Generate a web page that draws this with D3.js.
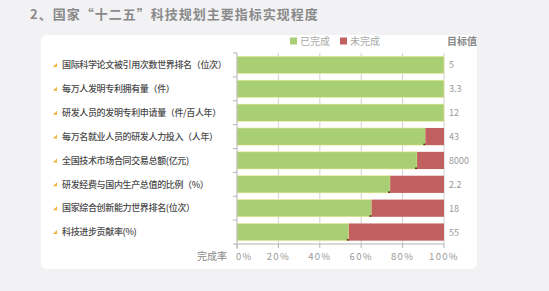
<!DOCTYPE html>
<html>
<head>
<meta charset="utf-8">
<script src="https://cdn.jsdelivr.net/npm/d3@7"></script>
<style>
  body { margin: 0; background: #f2f2f4; font-family: "Noto Sans CJK SC", "Noto Sans", sans-serif; }
</style>
</head>
<body>
<div id="chart"></div>
<script>
// data
var categories = ["国际科学论文被引用次数世界排名（位次）", "每万人发明专利拥有量（件）", "研发人员的发明专利申请量（件/百人年）",
  "每万名就业人员的研发人力投入（人年）", "全国技术市场合同交易总额(亿元)", "研发经费与国内生产总值的比例（%）",
  "国家综合创新能力世界排名(位次）", "科技进步贡献率(%)"];
var done = [100, 100, 100, 91, 87, 74, 65, 54];
var targets = ["5", "3.3", "12", "43", "8000", "2.2", "18", "55"];
var tickValues = [0, 20, 40, 60, 80, 100];

var W = 549, H = 291;
var svg = d3.select("#chart").append("svg")
  .attr("width", W).attr("height", H);

// title
svg.append("text")
  .attr("x", 30).attr("y", 19)
  .attr("font-size", 13).attr("font-weight", "bold")
  .attr("letter-spacing", 1.0)
  .attr("fill", "#8a8a8a")
  .text("2、国家“十二五”科技规划主要指标实现程度");

// white panel
svg.append("rect")
  .attr("x", 41).attr("y", 35).attr("width", 436).attr("height", 234)
  .attr("rx", 6).attr("fill", "#ffffff");

var x = d3.scaleLinear().domain([0, 100]).range([237, 444]);
var y = d3.scaleBand().domain(categories).range([53, 244]).paddingInner(0.28).paddingOuter(0.14);

// gridlines
svg.append("g").selectAll("line").data(tickValues.slice(1))
  .enter().append("line")
  .attr("x1", d => x(d)).attr("x2", d => x(d))
  .attr("y1", 53).attr("y2", 244)
  .attr("stroke", "#d0d0d0").attr("stroke-width", 1);

// completed bars
svg.append("g").selectAll("rect").data(done)
  .enter().append("rect")
  .attr("x", x(0))
  .attr("y", (d, i) => y(categories[i]))
  .attr("width", d => x(d) - x(0))
  .attr("height", y.bandwidth())
  .attr("fill", "#a9cf74")
  .attr("stroke", "#eeeaa0").attr("stroke-width", 0.6);

// remaining bars
svg.append("g").selectAll("rect").data(done)
  .enter().append("rect")
  .attr("x", d => x(d))
  .attr("y", (d, i) => y(categories[i]))
  .attr("width", d => x(100) - x(d))
  .attr("height", y.bandwidth())
  .attr("fill", "#c0605f");

// small dark marks at the boundary
svg.append("g").selectAll("rect").data(done.filter(d => d < 100))
  .enter().append("rect")
  .attr("x", d => x(d) - 2)
  .attr("y", (d, i) => y(categories[i + 3]) + y.bandwidth() - 1.5)
  .attr("width", 2).attr("height", 1.5)
  .attr("fill", "#5a2020");

// left axis
var yAxis = svg.append("g").attr("transform", "translate(237,0)");
yAxis.append("line").attr("y1", 53).attr("y2", 249).attr("stroke", "#b5b5b5");
var bounds = d3.range(categories.length + 1).map(i => 53 + i * (191 / categories.length));
yAxis.selectAll(".tk").data(bounds).enter().append("line")
  .attr("x1", -4).attr("x2", 0).attr("y1", d => d).attr("y2", d => d)
  .attr("stroke", "#b5b5b5");

// bottom axis
var xAxis = svg.append("g").attr("transform", "translate(0,244)");
xAxis.append("line").attr("x1", 237).attr("x2", 444).attr("stroke", "#b5b5b5");
xAxis.selectAll(".tk").data(tickValues).enter().append("line")
  .attr("x1", d => x(d)).attr("x2", d => x(d)).attr("y1", 0).attr("y2", 4)
  .attr("stroke", "#b5b5b5");
xAxis.selectAll("text").data(tickValues).enter().append("text")
  .attr("x", d => x(d)).attr("y", 16)
  .attr("text-anchor", d => d === 0 ? "start" : "middle")
  .attr("dx", d => d === 0 ? -1 : 0)
  .attr("font-size", 9.5).attr("letter-spacing", 1.3)
  .attr("fill", "#999")
  .text(d => d + "%");
svg.append("text")
  .attr("x", 227).attr("y", 260).attr("text-anchor", "end")
  .attr("font-size", 10).attr("fill", "#888").text("完成率");

// category labels with bullets
var lab = svg.append("g");
lab.selectAll("text").data(categories).enter().append("text")
  .attr("x", 62).attr("y", d => y(d) + y.bandwidth() / 2 + 3.3)
  .attr("font-size", 9).attr("letter-spacing", -0.35)
  .attr("font-weight", 500)
  .attr("fill", "#4a4a4a").text(d => d);
lab.selectAll("path").data(categories).enter().append("path")
  .attr("d", d => {
    var cy = y(d) + y.bandwidth() / 2;
    return "M53," + (cy + 2) + "L57," + (cy + 2) + "L57," + (cy - 2) + "Z";
  })
  .attr("fill", "#f0b030");

// target values
svg.append("g").selectAll("text").data(targets).enter().append("text")
  .attr("x", 449).attr("y", (d, i) => y(categories[i]) + y.bandwidth() / 2 + 3.5)
  .attr("font-size", 9).attr("fill", "#999").text(d => d);
svg.append("text").attr("x", 447).attr("y", 45)
  .attr("font-size", 10).attr("font-weight", "bold").attr("fill", "#888").text("目标值");

// legend
var legend = [["已完成", "#a9cf74"], ["未完成", "#c0605f"]];
var lg = svg.append("g").selectAll("g").data(legend).enter().append("g")
  .attr("transform", (d, i) => "translate(" + (290 + i * 50) + ",41)");
lg.append("rect").attr("x", 0).attr("y", -3.5).attr("width", 7).attr("height", 7).attr("fill", d => d[1]);
lg.append("text").attr("x", 10).attr("y", 3.5).attr("font-size", 10).attr("fill", "#aaa").text(d => d[0]);
</script>
</body>
</html>
